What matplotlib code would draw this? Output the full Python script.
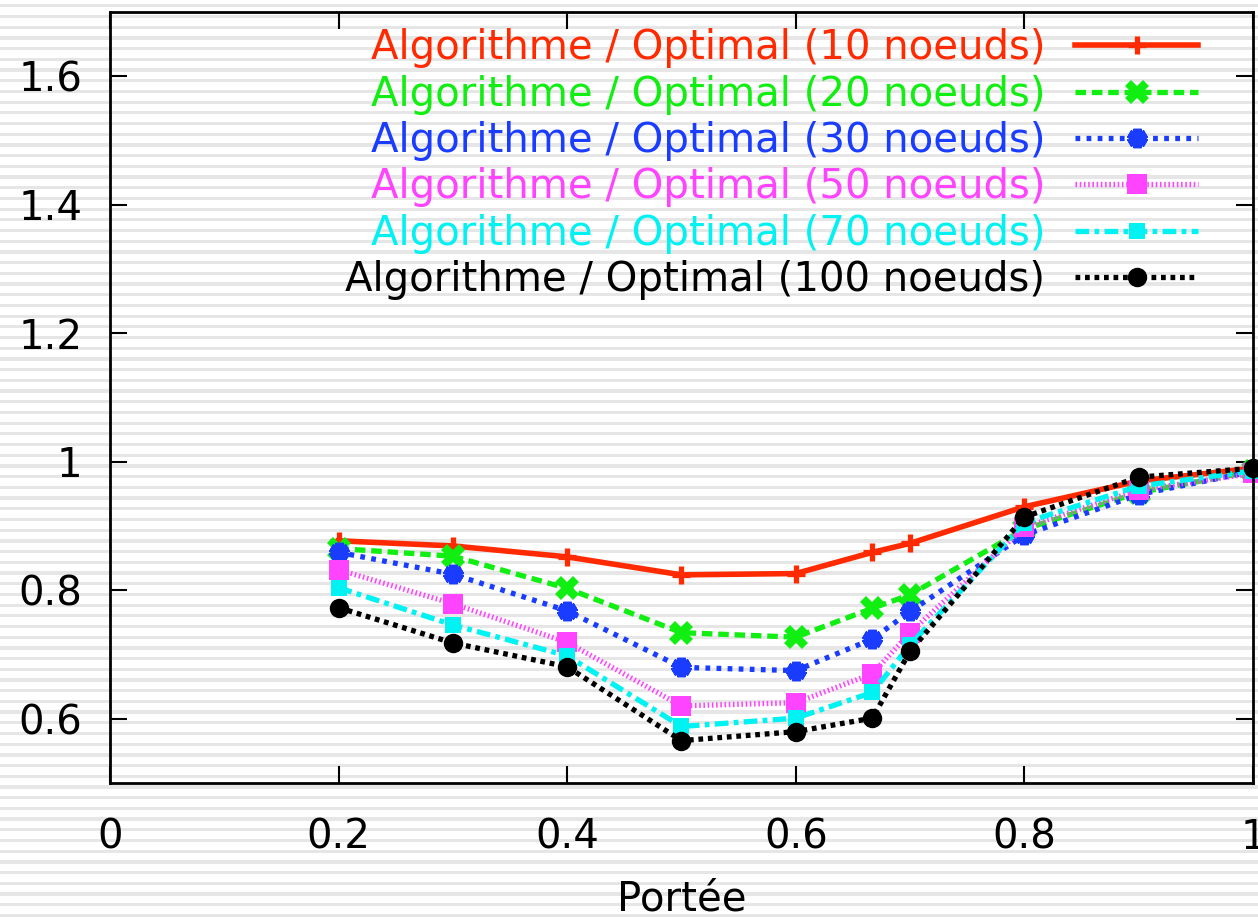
import numpy as np
import matplotlib
matplotlib.use("Agg")
import matplotlib.pyplot as plt

# Données
portee = [0.2, 0.3, 0.4, 0.5, 0.6, 0.667, 0.7, 0.8, 0.9, 1.0]
ratio_10 = [0.877, 0.869, 0.852, 0.824, 0.826, 0.859, 0.873, 0.930, 0.970, 0.990]
ratio_20 = [0.865, 0.853, 0.803, 0.734, 0.727, 0.772, 0.793, 0.895, 0.952, 0.985]
ratio_30 = [0.859, 0.825, 0.768, 0.680, 0.675, 0.724, 0.767, 0.886, 0.949, 0.985]
ratio_50 = [0.832, 0.779, 0.719, 0.620, 0.625, 0.670, 0.734, 0.898, 0.956, 0.982]
ratio_70 = [0.804, 0.746, 0.698, 0.588, 0.601, 0.641, 0.715, 0.905, 0.962, 0.986]
ratio_100 = [0.773, 0.718, 0.681, 0.566, 0.580, 0.601, 0.705, 0.914, 0.976, 0.990]
noeuds = [10, 20, 30, 50, 70, 100]

xticks = [0, 0.2, 0.4, 0.6, 0.8, 1]
xticklabels = ["0", "0.2", "0.4", "0.6", "0.8", "1"]
yticks = [0.6, 0.8, 1.0, 1.2, 1.4, 1.6]
yticklabels = ["0.6", "0.8", "1", "1.2", "1.4", "1.6"]

plt.rcParams['font.family'] = ['DejaVu Sans']
fs = 29

fig = plt.figure(figsize=(12.58, 9.21), dpi=100)

# fond rayé (lignes grises horizontales)
bg = fig.add_axes([0, 0, 1, 1], zorder=-10)
bg.set_xlim(0, 1)
bg.set_ylim(0, 921)
for yy in np.arange(4, 921, 10.7):
    bg.axhspan(yy, yy + 3.2, color='#e6e6e6', lw=0)
bg.axis('off')

ax = fig.add_axes([0.0874, 0.1498, 0.9086, 0.8372])
ax.patch.set_alpha(0)

styles = [
    dict(color='#ff2a00', ls='-', lw=4.0, marker='+', ms=13, mew=3.8),
    dict(color='#11ee11', ls=(0, (2.0, 1.1)), lw=3.8, marker='X', ms=17, mew=0),
    dict(color='#1a3cff', ls=(0, (0.9, 1.2)), lw=3.8, marker=(6, 2, 0), ms=14, mew=6),
    dict(color='#ff44ff', ls=(0, (0.3, 0.5)), lw=3.8, marker='s', ms=14, mew=0),
    dict(color='#00f2f2', ls=(0, (2.6, 1.0, 0.9, 1.0)), lw=3.8, marker='s', ms=12, mew=0),
    dict(color='black', ls=(0, (0.9, 0.9)), lw=3.8, marker='o', ms=14, mew=0),
]
series = [ratio_10, ratio_20, ratio_30, ratio_50, ratio_70, ratio_100]

for n, vals, st in zip(noeuds, series, styles):
    ax.plot(portee, vals, label="Algorithme / Optimal (%d noeuds)" % n,
            clip_on=False, **st)

ax.set_xlim(0, 1)
ax.set_ylim(0.5, 1.7)
ax.set_xticks(xticks)
ax.set_xticklabels(xticklabels)
ax.set_yticks(yticks)
ax.set_yticklabels(yticklabels)
ax.tick_params(direction='in', length=12, width=1.5, top=True, right=True,
               labelsize=fs)
ax.tick_params(axis='x', pad=25)
ax.tick_params(axis='y', pad=20)
for s in ax.spines.values():
    s.set_linewidth(2)

ax.set_xlabel("Portée", fontsize=fs, va='center')
ax.xaxis.set_label_coords(0.5, -0.151)

ax.legend(loc='upper right', bbox_to_anchor=(0.952, 0.979), frameon=False,
          markerfirst=False, fontsize=fs, labelcolor='linecolor',
          handlelength=3.05, handletextpad=0.75, labelspacing=0.16,
          borderpad=0, borderaxespad=0)

fig.savefig("out.png", dpi=100)
